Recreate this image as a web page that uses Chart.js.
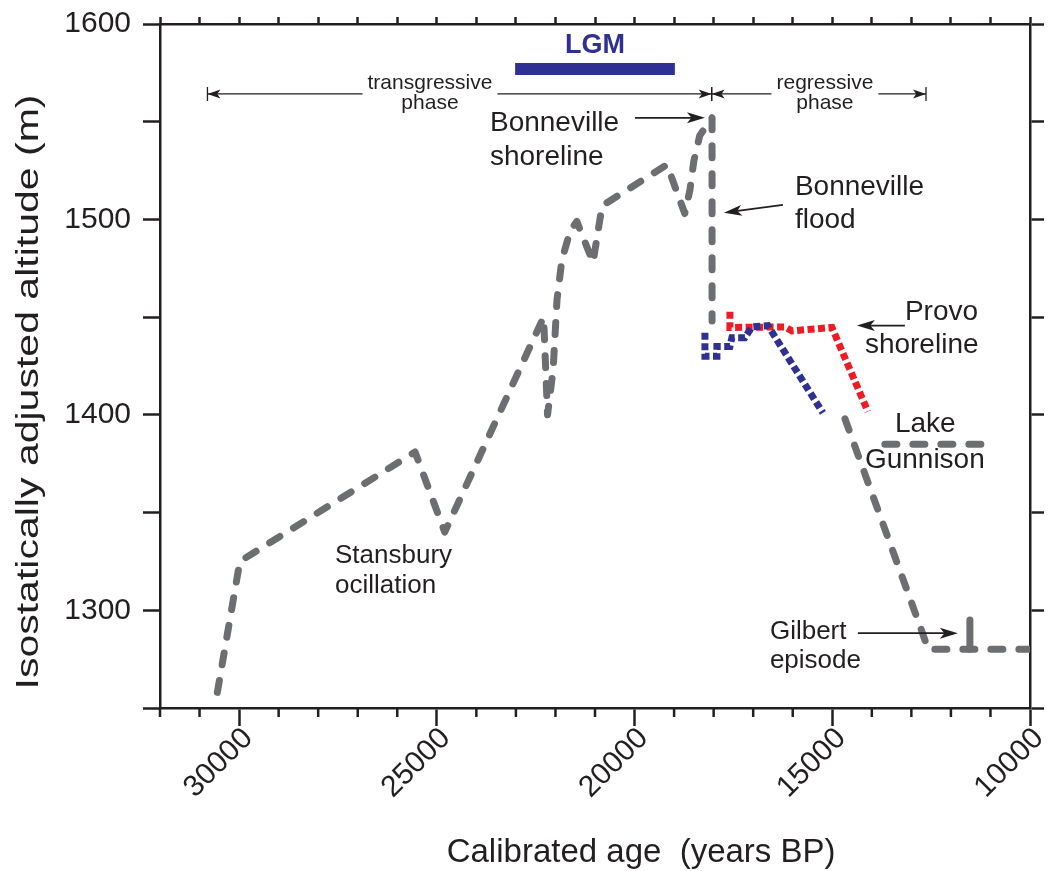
<!DOCTYPE html>
<html><head><meta charset="utf-8">
<script src="https://cdn.jsdelivr.net/npm/chart.js@4/dist/chart.umd.min.js"></script>
<style>html,body{margin:0;padding:0;background:#fff}#wrap{width:1050px;height:871px;position:relative}</style>
</head><body><div id="wrap"><canvas id="c" width="1050" height="871"></canvas></div>
<script>
// ---- data (calibrated age in years BP, altitude in m) ----
const mainAge = [30550, 29980, 25550, 24800, 22300, 22200, 22060, 21960, 21840, 21630, 21460, 21050, 20820, 19180, 18730, 18600, 18500, 18350, 18040, 18040];
const mainAlt = [1258, 1325, 1381, 1340, 1450, 1400, 1423, 1459, 1479, 1494, 1499, 1478, 1507, 1528, 1503, 1515, 1530, 1543, 1552, 1448];
const lateAge = [14680, 12730, 12580, 10000];
const lateAlt = [1398, 1289, 1280, 1280];
const gilbertAge = [11520, 11520];
const gilbertAlt = [1280, 1295];
const gunnisonAge = [13670, 11190];
const gunnisonAlt = [1385, 1385];
const blueAge = [18220, 18220, 17917, 17917, 17588, 17538, 17209, 17032, 16628, 15237];
const blueAlt = [1442, 1430, 1430, 1435, 1435, 1439.5, 1439.5, 1445, 1445.7, 1401];
const redAge = [17588, 17588, 16198, 16020, 15009, 14099];
const redAlt = [1452.8, 1444.7, 1445, 1443, 1444.7, 1401.7];
const lgmAge = [23020, 18980];
const lgmAlt = [1577, 1577];
const xTickLabels = [30000, 25000, 20000, 15000, 10000];
const yTickLabels = [1300, 1400, 1500, 1600];

const INK = '#231f20', GRAY = '#6d6e71', BLUE = '#2e3192', RED = '#ed1c24';
const FONT = '"Liberation Sans", Arial, Helvetica, sans-serif';
const pts = (a, b) => a.map((v, i) => ({x: v, y: b[i]}));

// annotations in data coordinates
const texts = [
  {t: 'Bonneville', x: 23656, y: 1549.4, size: 28},
  {t: 'shoreline', x: 23656, y: 1532, size: 28},
  {t: 'Bonneville', x: 15945, y: 1516.7, size: 28},
  {t: 'flood', x: 15945, y: 1499.8, size: 28},
  {t: 'Provo', x: 13164, y: 1452.3, size: 28},
  {t: 'shoreline', x: 14175, y: 1435.5, size: 28},
  {t: 'Lake', x: 13416, y: 1395, size: 28},
  {t: 'Gunnison', x: 14175, y: 1376.7, size: 28},
  {t: 'Gilbert', x: 16577, y: 1288.8, size: 26},
  {t: 'episode', x: 16577, y: 1274, size: 26},
  {t: 'Stansbury', x: 27575, y: 1328, size: 26},
  {t: 'ocillation', x: 27575, y: 1312.3, size: 26},
  {t: 'LGM', x: 21001, y: 1589, size: 27, bold: true, color: BLUE, align: 'center'},
  {t: 'phase', x: 25173, y: 1559.6, size: 21, align: 'center'},
  {t: 'phase', x: 15186, y: 1559.6, size: 21, align: 'center'}
];
const arrows = [
  {x1: 19990, y1: 1552, x2: 18220, y2: 1552},
  {x1: 16248, y1: 1507.5, x2: 17740, y2: 1503.4},
  {x1: 13164, y1: 1445.7, x2: 14378, y2: 1445.7},
  {x1: 14352, y1: 1288.3, x2: 11824, y2: 1288.3}
];
const phases = [
  {from: 30800, to: 18050, y: 1564.2, label: 'transgressive', cx: 25173, ly: 1569.9},
  {from: 18050, to: 12630, y: 1564.2, label: 'regressive', cx: 15186, ly: 1569.9}
];

function head(ctx, x1, y1, x2, y2, len, hw) {
  const a = Math.atan2(y2 - y1, x2 - x1);
  ctx.beginPath();
  ctx.moveTo(x2, y2);
  ctx.lineTo(x2 - len * Math.cos(a) + hw * Math.sin(a), y2 - len * Math.sin(a) - hw * Math.cos(a));
  ctx.lineTo(x2 - len * 0.75 * Math.cos(a), y2 - len * 0.75 * Math.sin(a));
  ctx.lineTo(x2 - len * Math.cos(a) - hw * Math.sin(a), y2 - len * Math.sin(a) + hw * Math.cos(a));
  ctx.closePath();
  ctx.fill();
}

const annot = {
  id: 'annot',
  afterDraw(chart) {
    const ctx = chart.ctx, xs = chart.scales.x, ys = chart.scales.y, ca = chart.chartArea;
    const X = v => xs.getPixelForValue(v), Y = v => ys.getPixelForValue(v);
    ctx.save();
    // minor ticks on bottom axis
    ctx.strokeStyle = INK; ctx.lineWidth = 2.5;
    xs.ticks.forEach(t => {
      if (t.value % 5000 !== 0) {
        const px = X(t.value);
        ctx.beginPath(); ctx.moveTo(px, ca.bottom); ctx.lineTo(px, ca.bottom + 9); ctx.stroke();
      }
    });
    // axis titles
    ctx.fillStyle = INK; ctx.textBaseline = 'middle'; ctx.textAlign = 'center';
    ctx.font = '33px ' + FONT;
    ctx.fillText('Calibrated age  (years BP)', ca.left + (ca.right - ca.left) * 0.553, 853);
    ctx.save();
    ctx.font = '31px ' + FONT;
    const ytxt = 'Isostatically adjusted altitude (m)';
    const yw = ctx.measureText(ytxt).width;
    ctx.translate(29, 392);
    ctx.rotate(-Math.PI / 2);
    ctx.scale(595 / yw, 1);
    ctx.fillText(ytxt, 0, 0);
    ctx.restore();
    // texts
    texts.forEach(o => {
      ctx.font = (o.bold ? 'bold ' : '') + o.size + 'px ' + FONT;
      ctx.fillStyle = o.color || INK;
      ctx.textAlign = o.align || 'left';
      ctx.textBaseline = 'middle';
      ctx.fillText(o.t, X(o.x), Y(o.y));
    });
    // arrows
    ctx.strokeStyle = INK; ctx.fillStyle = INK; ctx.lineWidth = 1.8;
    arrows.forEach(a => {
      const x1 = X(a.x1), y1 = Y(a.y1), x2 = X(a.x2), y2 = Y(a.y2);
      const ang = Math.atan2(y2 - y1, x2 - x1);
      ctx.beginPath(); ctx.moveTo(x1, y1); ctx.lineTo(x2 - 10 * Math.cos(ang), y2 - 10 * Math.sin(ang)); ctx.stroke();
      head(ctx, x1, y1, x2, y2, 18, 5.5);
    });
    // phase arrows
    ctx.lineWidth = 1.3;
    phases.forEach(p => {
      const x1 = X(p.from), x2 = X(p.to), y = Y(p.y);
      ctx.font = '21px ' + FONT;
      const w = ctx.measureText(p.label).width;
      const cx = X(p.cx);
      ctx.fillStyle = INK; ctx.textAlign = 'center'; ctx.textBaseline = 'middle';
      ctx.fillText(p.label, cx, Y(p.ly));
      ctx.beginPath();
      ctx.moveTo(x1, y); ctx.lineTo(cx - w / 2 - 5, y);
      ctx.moveTo(cx + w / 2 + 5, y); ctx.lineTo(x2, y);
      ctx.moveTo(x1, y - 7); ctx.lineTo(x1, y + 7);
      ctx.moveTo(x2, y - 7); ctx.lineTo(x2, y + 7);
      ctx.stroke();
      head(ctx, x1 + 20, y, x2, y, 13, 4.5);
      head(ctx, x2, y, x1, y, 13, 4.5);
    });
    ctx.restore();
  }
};

const dashed = {borderColor: GRAY, borderWidth: 7, borderDash: [12, 16], borderCapStyle: 'round', borderJoinStyle: 'round'};
const dotted = {borderWidth: 7, borderDash: [7, 3.5], borderCapStyle: 'butt', borderJoinStyle: 'miter'};
const noPadH = s => { s.paddingLeft = 0; s.paddingRight = 0; };
const noPadV = s => { s.paddingTop = 0; s.paddingBottom = 0; };

new Chart(document.getElementById('c'), {
  type: 'line',
  data: {
    datasets: [
      Object.assign({data: pts(mainAge, mainAlt)}, dashed),
      Object.assign({data: pts(lateAge, lateAlt)}, dashed),
      Object.assign({data: pts(gunnisonAge, gunnisonAlt)}, dashed),
      {data: pts(gilbertAge, gilbertAlt), borderColor: GRAY, borderWidth: 7, borderCapStyle: 'round'},
      Object.assign({data: pts(blueAge, blueAlt), borderColor: BLUE}, dotted),
      Object.assign({data: pts(redAge, redAlt), borderColor: RED}, dotted),
      {data: pts(lgmAge, lgmAlt), borderColor: BLUE, borderWidth: 12, borderCapStyle: 'butt'}
    ]
  },
  options: {
    responsive: false, animation: false,
    layout: {padding: 0},
    elements: {point: {radius: 0}, line: {tension: 0, fill: false}},
    plugins: {legend: {display: false}, tooltip: {enabled: false}},
    scales: {
      x: {
        type: 'linear', position: 'bottom', reverse: true, min: 10000, max: 32000,
        afterFit: s => { s.height = 163; noPadH(s); },
        border: {display: true, color: INK, width: 2.5},
        grid: {drawOnChartArea: false, tickLength: 18, tickWidth: 2.5,
               tickColor: c => (c.tick && c.tick.value % 5000 === 0) ? INK : 'rgba(0,0,0,0)'},
        ticks: {stepSize: 1000, autoSkip: false, minRotation: 45, maxRotation: 45, padding: -5, labelOffset: 9,
                color: INK, font: {family: FONT, size: 30},
                callback: v => xTickLabels.includes(v) ? String(v) : ''}
      },
      x2: {
        type: 'linear', position: 'top', reverse: true, min: 10000, max: 32000,
        afterFit: s => { s.height = 24; noPadH(s); },
        border: {display: true, color: INK, width: 2.5},
        grid: {drawOnChartArea: false, tickLength: 7, tickWidth: 2.5, tickColor: INK},
        ticks: {display: false, stepSize: 1000, autoSkip: false}
      },
      y: {
        type: 'linear', position: 'left', min: 1250, max: 1600,
        afterFit: s => { s.width = 160; noPadV(s); },
        border: {display: true, color: INK, width: 2.5},
        grid: {drawOnChartArea: false, tickLength: 17, tickWidth: 2.5, tickColor: INK},
        ticks: {stepSize: 50, autoSkip: false, padding: 12, color: INK, font: {family: FONT, size: 30},
                callback: v => yTickLabels.includes(v) ? String(v) : ''}
      },
      y2: {
        type: 'linear', position: 'right', min: 1250, max: 1600,
        afterFit: s => { s.width = 20; noPadV(s); },
        border: {display: true, color: INK, width: 2.5},
        grid: {drawOnChartArea: false, tickLength: 14, tickWidth: 2.5, tickColor: INK},
        ticks: {display: false, stepSize: 50, autoSkip: false}
      }
    }
  },
  plugins: [annot]
});
</script>
</body></html>
